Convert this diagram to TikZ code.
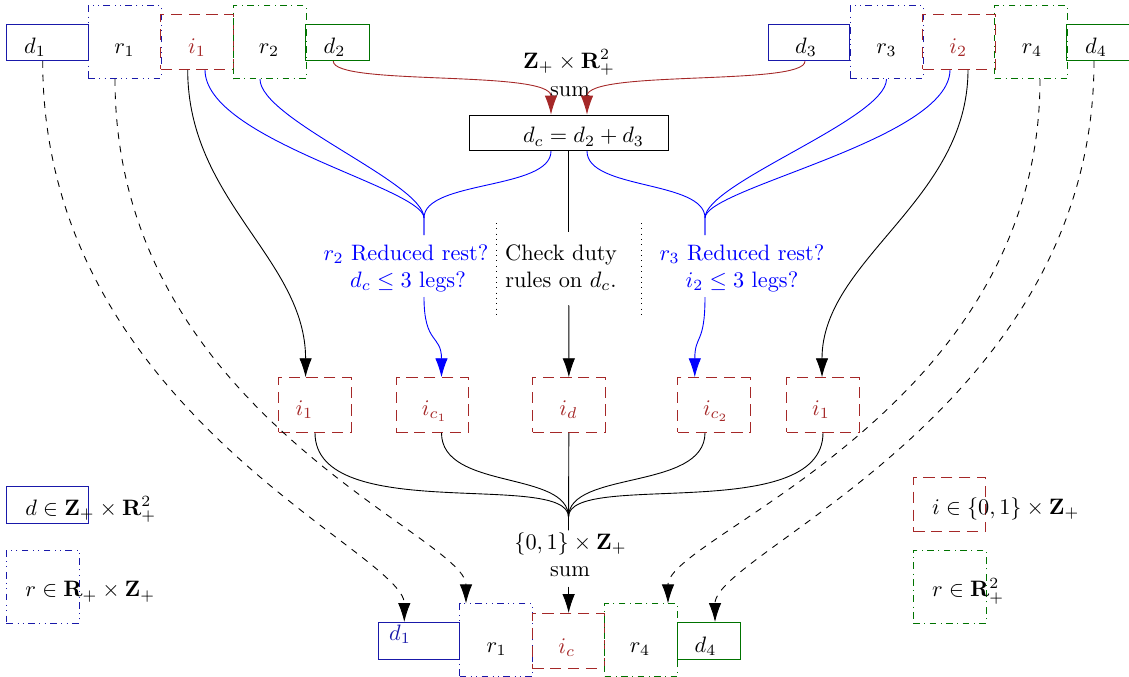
\documentclass[tikz,border=0pt]{standalone}
\usetikzlibrary{arrows.meta,calc}
\definecolor{dblue}{RGB}{25,25,170}
\definecolor{dred}{RGB}{165,40,40}
\definecolor{dgreen}{RGB}{0,115,0}
\begin{document}
\begin{tikzpicture}[x=0.4484pt,y=-0.4484pt,
  dB/.style={draw=dblue, inner sep=0pt, minimum width=36.5pt, minimum height=16.5pt},
  dG/.style={draw=dgreen, inner sep=0pt, minimum width=28.4pt, minimum height=16.5pt},
  rB/.style={draw=dblue, dash dot dot, inner sep=0pt, minimum width=32.7pt, minimum height=32.7pt},
  rG/.style={draw=dgreen, dash dot, inner sep=0pt, minimum width=32.7pt, minimum height=32.7pt},
  ibox/.style={draw=dred, dash pattern=on 5pt off 3pt, inner sep=0pt, minimum width=32.5pt, minimum height=24.5pt},
  lbl/.style={anchor=base, inner sep=0pt},
  lgd/.style={anchor=base west, inner sep=0pt},
  arr/.style={-{Latex[length=8.5pt,width=5.6pt]}}
]
\useasboundingbox (0,0) rectangle (1129,677);

% top row
\node[dB] (d1) at (47.35,42.35) {};
\node[rB] (r1) at (124.5,42.2) {};
\node[ibox] (i1) at (197,42) {};
\node[rG] (r2) at (269.5,42.2) {};
\node[dG] (d2) at (337.5,42.35) {};
\node[dB] (d3) at (809,42.35) {};
\node[rB] (r3) at (886.5,42.2) {};
\node[ibox] (i2) at (959,42) {};
\node[rG] (r4) at (1031,42.2) {};
\node[dG] (d4) at (1098.5,42.35) {};
\node[lbl] (d1t) at (35,53) {$d_1$};
\node[lbl] (r1t) at (124.5,53) {$r_1$};
\node[lbl, text=dred] (i1t) at (197,53) {$i_1$};
\node[lbl] (r2t) at (269,53) {$r_2$};
\node[lbl] (d2t) at (334.5,53) {$d_2$};
\node[lbl] (d3t) at (806,53) {$d_3$};
\node[lbl] (r3t) at (886.5,53) {$r_3$};
\node[lbl, text=dred] (i2t) at (958.3,53) {$i_2$};
\node[lbl] (r4t) at (1032,53) {$r_4$};
\node[lbl] (d4t) at (1096,53) {$d_4$};

% centre top
\node[lbl] (zr) at (569,68) {$\mathbf{Z}_+ \times \mathbf{R}_+^2$};
\node[lbl] (sum1) at (570,96.7) {sum};
\node[draw, inner sep=0pt, minimum width=89.2pt, minimum height=16pt] (dc) at (568.8,132.85) {};
\node[lbl] (dct) at (583.5,142.7) {$d_c = d_2 + d_3$};

% middle texts
\node[lbl, text=blue] (q1a) at (406,260) {$r_2$ Reduced rest?};
\node[lbl, text=blue] (q1b) at (408,287.3) {$d_c \leq 3$ legs?};
\node[lbl] (ck1) at (561,260) {Check duty};
\node[lbl] (ck2) at (561,287.3) {rules on $d_c$.};
\node[lbl, text=blue] (q2a) at (742,260) {$r_3$ Reduced rest?};
\node[lbl, text=blue] (q2b) at (742,287.3) {$i_2 \leq 3$ legs?};
\draw[dotted] (496,223) -- (496,317);
\draw[dotted] (641.6,223) -- (641.6,317);

\coordinate (mL) at (424,218);
\coordinate (mLt) at (424,235);
\coordinate (mLb) at (424,297);
\coordinate (mR) at (705,218);
\coordinate (mRt) at (705,235);
\coordinate (mRb) at (705,297);
\coordinate (ckt) at (568.8,232);
\coordinate (ckb) at (568.8,305);
\coordinate (mB) at (568.5,517);
\coordinate (mBb) at (568.5,530);

% i row
\node[ibox] (j1) at (314.75,405) {};
\node[ibox] (jc1) at (432.65,405) {};
\node[ibox] (jd) at (568.85,405) {};
\node[ibox] (jc2) at (714.15,405) {};
\node[ibox] (j2) at (823,405) {};
\node[lbl, text=dred] (j1t) at (304.4,415.5) {$i_1$};
\node[lbl, text=dred] (jc1t) at (434.6,415.5) {$i_{c_1}$};
\node[lbl, text=dred] (jdt) at (568.5,415.5) {$i_d$};
\node[lbl, text=dred] (jc2t) at (715.8,415.5) {$i_{c_2}$};
\node[lbl, text=dred] (j2t) at (821,415.5) {$i_1$};

% bottom
\node[lbl] (zo) at (570.5,549.3) {$\{0,1\} \times \mathbf{Z}_+$};
\node[lbl] (sum2) at (570,576.7) {sum};
\node[dB] (b1) at (419.15,640.85) {};
\node[rB] (b2) at (496.15,640.3) {};
\node[ibox] (ic) at (568.65,640.8) {};
\node[rG] (b4) at (641.15,640.3) {};
\node[dG] (b5) at (709.15,640.85) {};
\node[lbl, text=dblue] (b1t) at (400,640) {$d_1$};
\node[lbl] (b2t) at (496.7,652) {$r_1$};
\node[lbl, text=dred] (ict) at (566.7,653) {$i_c$};
\node[lbl] (b4t) at (640,652) {$r_4$};
\node[lbl] (b5t) at (705.5,652) {$d_4$};

% legends
\node[dB] (Ld) at (47.5,504.65) {};
\node[rB] (Lr) at (42.85,586.65) {};
\node[ibox] (Li) at (949.65,504.5) {};
\node[rG] (Lg) at (949.65,586.65) {};
\node[lgd] (Ldt) at (25,515) {$d \in \mathbf{Z}_+ \times \mathbf{R}_+^2$};
\node[lgd] (Lrt) at (25,596.7) {$r \in \mathbf{R}_+ \times \mathbf{Z}_+$};
\node[lgd] (Lit) at (931.7,514) {$i \in \{0,1\} \times \mathbf{Z}_+$};
\node[lgd] (Lgt) at (931.7,596.7) {$r \in \mathbf{R}_+^2$};

% red sum arrows
\draw[dred, arr] ($(d2.south)+(-4.2,0)$) .. controls +(0,25) and +(0,-45) .. ($(dc.north)+(-17.8,0)$);
\draw[dred, arr] ($(d3.south)+(-4,0)$) .. controls +(0,25) and +(0,-45) .. ($(dc.north)+(18.2,0)$);

% blue merges
\draw[blue] ($(i1.south)+(8,0)$) .. controls +(0,70) and +(0,-30) .. (mL) -- (mLt);
\draw[blue] ($(r2.south)+(-9.5,0)$) .. controls +(0,40) and +(0,-35) .. (mL) -- (mLt);
\draw[blue] ($(dc.south)+(-17.8,0)$) .. controls +(0,39) and +(0,-38) .. (mL);
\draw[blue] ($(dc.south)+(18.2,0)$) .. controls +(0,39) and +(0,-38) .. (mR);
\draw[blue] (r3.south) .. controls +(0,40) and +(0,-35) .. (mR) -- (mRt);
\draw[blue] ($(i2.south)+(-9,0)$) .. controls +(0,70) and +(0,-30) .. (mR) -- (mRt);
\draw[blue, arr] (mLb) .. controls +(0,48) and +(0,-43) .. ($(jc1.north)+(8.85,0)$);
\draw[blue, arr] (mRb) .. controls +(0,48) and +(0,-43) .. ($(jc2.north)+(-19.35,0)$);

% black
\draw[arr] ($(i1.south)+(-9.3,0)$) .. controls +(0,131) and +(0,-118) .. ($(j1.north)+(-9.15,0)$);
\draw[arr] ($(i2.south)+(9,0)$) .. controls +(0,131) and +(0,-118) .. ($(j2.north)+(-1,0)$);
\draw (dc.south) -- (ckt);
\draw[arr] (ckb) -- (jd.north);

% dashed long arrows
\draw[dashed, arr] ($(d1.south)+(-4.65,0)$) .. controls +(0,350) and +(0,-70) .. ($(b1.north)+(-14.85,0)$);
\draw[dashed, arr] ($(r1.south)+(-9.5,0)$) .. controls +(0,335) and +(0,-68) .. ($(b2.north)+(-30.15,0)$);
\draw[dashed, arr] ($(r4.south)+(9,0)$) .. controls +(0,335) and +(0,-68) .. ($(b4.north)+(26.85,0)$);
\draw[dashed, arr] ($(d4.south)+(-4.5,0)$) .. controls +(0,350) and +(0,-70) .. ($(b5.north)+(5.85,0)$);

% bottom merge
\draw ($(j1.south)+(0.25,0)$) .. controls +(0,93) and +(0,-47) .. (mB) -- (mBb);
\draw ($(jc1.south)+(8.85,0)$) .. controls +(0,58) and +(0,-47) .. (mB);
\draw (jd.south) -- (mBb);
\draw ($(jc2.south)+(-9.15,0)$) .. controls +(0,58) and +(0,-47) .. (mB);
\draw (j2.south) .. controls +(0,93) and +(0,-47) .. (mB) -- (mBb);
\draw[arr] ($(ic.north)+(0,-26.3)$) -- (ic.north);
\end{tikzpicture}
\end{document}
